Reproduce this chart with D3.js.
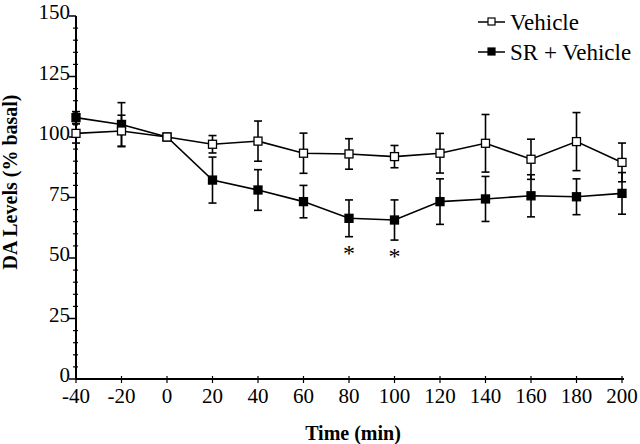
<!DOCTYPE html>
<html>
<head>
<meta charset="utf-8">
<script src="https://cdn.jsdelivr.net/npm/d3@7"></script>
<style>
  body { margin: 0; background: #fff; }
  svg text { font-family: "Liberation Serif", "Times New Roman", serif; fill: #000; }
</style>
</head>
<body>
<svg id="chart" width="640" height="444"></svg>
<script>
// time points (min)
const times = [-40, -20, 0, 20, 40, 60, 80, 100, 120, 140, 160, 180, 200];

// Vehicle (open squares)
const vehicleMean = [101.5, 102.5, 100, 97, 98.3, 93.3, 93, 91.9, 93.3, 97.4, 90.8, 98.1, 89.5];
const vehicleErr  = [4, 6.5, 0, 3.6, 8.3, 8.3, 6.3, 4.6, 8.2, 11.9, 8.3, 12, 8];

// SR + Vehicle (filled squares)
const srMean = [108, 105.2, 100, 82.2, 78.1, 73.3, 66.4, 65.7, 73.3, 74.4, 75.7, 75.3, 76.7];
const srErr  = [2.5, 9, 0, 9.5, 8.4, 6.7, 7.6, 8.3, 9.4, 9.3, 8.7, 7.4, 8.6];

// time points marked significant
const sigTimes = [80, 100];

const xTicks = [-40, -20, 0, 20, 40, 60, 80, 100, 120, 140, 160, 180, 200];
const yTicks = [0, 25, 50, 75, 100, 125, 150];

const svg = d3.select("#chart");

const x = d3.scaleLinear().domain([-40, 200]).range([76, 622]);
const y = d3.scaleLinear().domain([0, 150]).range([379, 16]);

// axes
const axisG = svg.append("g");

axisG.append("line")
    .attr("x1", x(-40)).attr("x2", x(200) + 2)
    .attr("y1", y(0)).attr("y2", y(0))
    .attr("stroke", "#000").attr("stroke-width", 2);

axisG.append("line")
    .attr("x1", x(-40)).attr("x2", x(-40))
    .attr("y1", y(0)).attr("y2", y(150))
    .attr("stroke", "#000").attr("stroke-width", 2);

// y minor ticks every 5
axisG.selectAll(".yminor")
    .data(d3.range(5, 150, 5).filter(v => v % 25 !== 0))
    .enter().append("line")
    .attr("class", "yminor")
    .attr("x1", x(-40) - 3).attr("x2", x(-40) + 2)
    .attr("y1", d => y(d)).attr("y2", d => y(d))
    .attr("stroke", "#000").attr("stroke-width", 1.2);

axisG.selectAll(".ymajor")
    .data(yTicks)
    .enter().append("line")
    .attr("class", "ymajor")
    .attr("x1", x(-40) - 7).attr("x2", x(-40))
    .attr("y1", d => y(d)).attr("y2", d => y(d))
    .attr("stroke", "#000").attr("stroke-width", 1.5);

axisG.selectAll(".ylab")
    .data(yTicks)
    .enter().append("text")
    .attr("class", "ylab")
    .attr("x", x(-40) - 6)
    .attr("y", d => y(d) + 3)
    .attr("text-anchor", "end")
    .style("font-size", "21px")
    .text(d => d);

axisG.selectAll(".xmajor")
    .data(xTicks)
    .enter().append("line")
    .attr("class", "xmajor")
    .attr("x1", d => x(d)).attr("x2", d => x(d))
    .attr("y1", y(0) - 3).attr("y2", y(0) + 4)
    .attr("stroke", "#000").attr("stroke-width", 1.2);

axisG.selectAll(".xlab")
    .data(xTicks)
    .enter().append("text")
    .attr("class", "xlab")
    .attr("x", d => x(d))
    .attr("y", 403)
    .attr("text-anchor", "middle")
    .style("font-size", "21px")
    .text(d => d);

svg.append("text")
    .attr("x", 353).attr("y", 440)
    .attr("text-anchor", "middle")
    .style("font-size", "20px").style("font-weight", "bold")
    .text("Time (min)");

svg.append("text")
    .attr("transform", "translate(17,182) rotate(-90)")
    .attr("text-anchor", "middle")
    .style("font-size", "20px").style("font-weight", "bold")
    .text("DA Levels (% basal)");

// series
const series = [
    {name: "SR + Vehicle", mean: srMean, err: srErr, fill: "#000"},
    {name: "Vehicle", mean: vehicleMean, err: vehicleErr, fill: "#fff"}
];

const line = d3.line().x(d => x(d.t)).y(d => y(d.v));
const sq = 8, cap = 4;

series.forEach(s => {
    const pts = times.map((t, i) => ({t: t, v: s.mean[i], e: s.err[i]}));
    const g = svg.append("g");

    const eb = g.selectAll(".eb").data(pts.filter(d => d.e > 0)).enter().append("g");
    eb.append("line")
        .attr("x1", d => x(d.t)).attr("x2", d => x(d.t))
        .attr("y1", d => y(d.v + d.e)).attr("y2", d => y(d.v - d.e))
        .attr("stroke", "#000").attr("stroke-width", 1.6);
    eb.append("line")
        .attr("x1", d => x(d.t) - cap).attr("x2", d => x(d.t) + cap)
        .attr("y1", d => y(d.v + d.e)).attr("y2", d => y(d.v + d.e))
        .attr("stroke", "#000").attr("stroke-width", 1.6);
    eb.append("line")
        .attr("x1", d => x(d.t) - cap).attr("x2", d => x(d.t) + cap)
        .attr("y1", d => y(d.v - d.e)).attr("y2", d => y(d.v - d.e))
        .attr("stroke", "#000").attr("stroke-width", 1.6);

    g.append("path")
        .datum(pts)
        .attr("d", line)
        .attr("fill", "none")
        .attr("stroke", "#000")
        .attr("stroke-width", 1.6);

    g.selectAll("rect").data(pts).enter().append("rect")
        .attr("x", d => x(d.t) - sq / 2)
        .attr("y", d => y(d.v) - sq / 2)
        .attr("width", sq).attr("height", sq)
        .attr("fill", s.fill)
        .attr("stroke", "#000").attr("stroke-width", 1.3);
});

// significance markers
svg.selectAll(".sig")
    .data(sigTimes)
    .enter().append("text")
    .attr("class", "sig")
    .attr("x", d => x(d))
    .attr("y", d => y(srMean[times.indexOf(d)] - srErr[times.indexOf(d)]) + 24)
    .attr("text-anchor", "middle")
    .style("font-size", "24px")
    .text("*");

// legend
const legend = svg.append("g");
const legendItems = [
    {name: "Vehicle", fill: "#fff", yy: 22},
    {name: "SR + Vehicle", fill: "#000", yy: 52}
];
legendItems.forEach(it => {
    legend.append("line")
        .attr("x1", 478).attr("x2", 505)
        .attr("y1", it.yy).attr("y2", it.yy)
        .attr("stroke", "#000").attr("stroke-width", 1.5);
    legend.append("rect")
        .attr("x", 488).attr("y", it.yy - 4)
        .attr("width", 7).attr("height", 7)
        .attr("fill", it.fill).attr("stroke", "#000").attr("stroke-width", 1.2);
    legend.append("text")
        .attr("x", 510).attr("y", it.yy + 8)
        .style("font-size", "23px")
        .text(it.name);
});
</script>
</body>
</html>
